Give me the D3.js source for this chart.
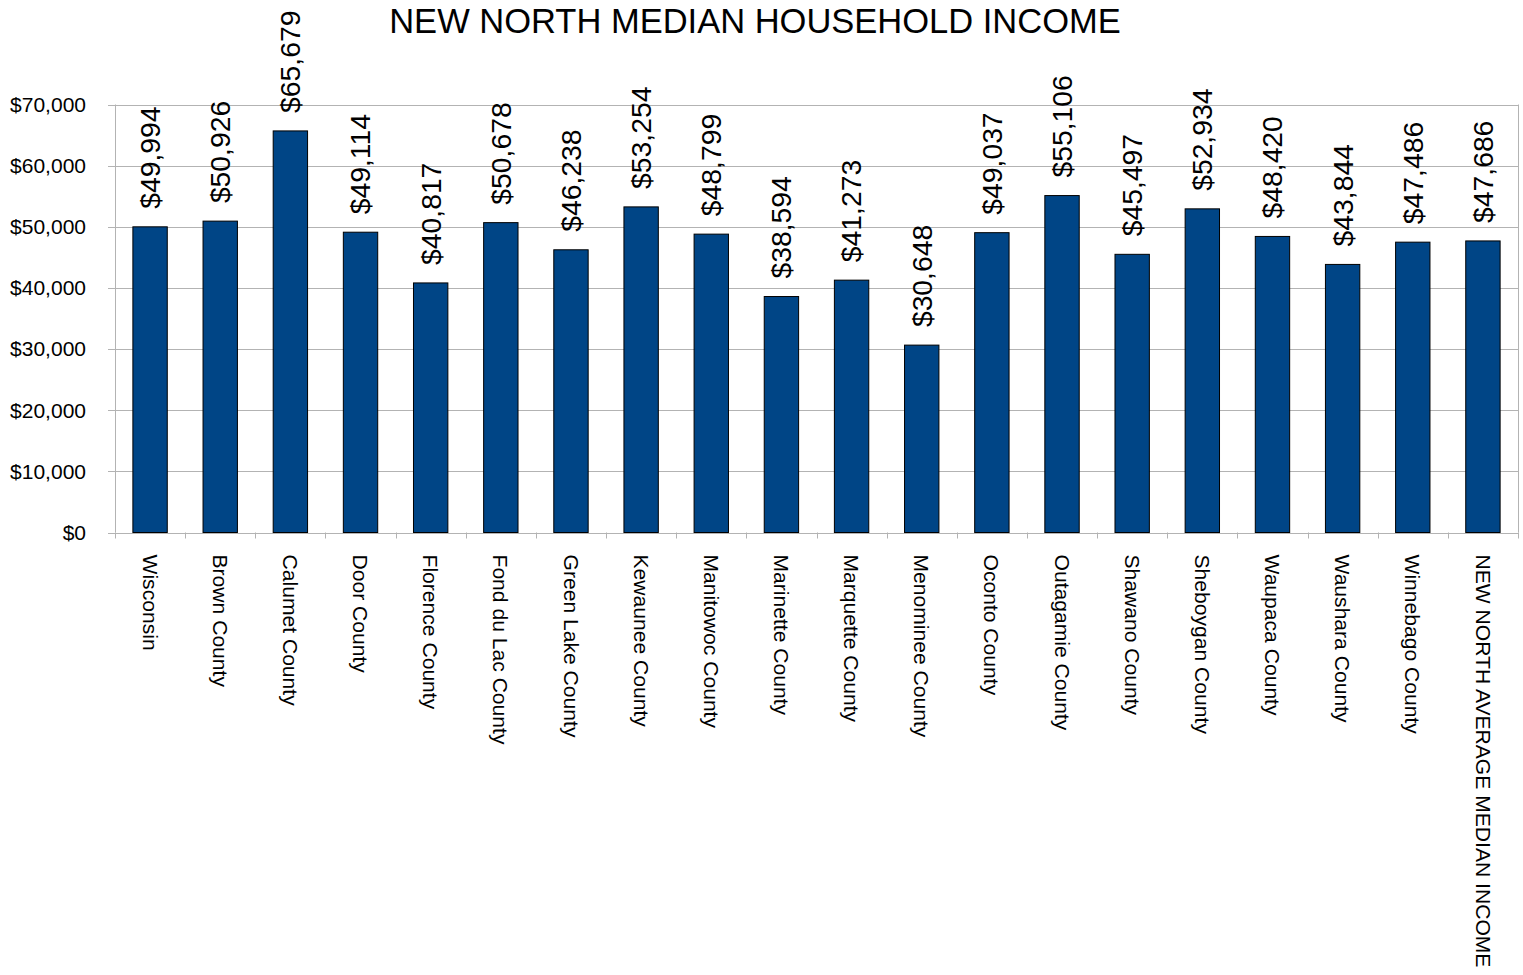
<html>
<script src='https://d3js.org/d3.v7.min.js'></script>
<style>
    body { margin: 0; background: white; }
    text { font-family: "Liberation Sans", Arial, sans-serif; fill: black; }
</style>
<body>
<div id="chart"></div>
<script>
    // categories and median household income values
    var counties = ["Wisconsin", "Brown County", "Calumet County", "Door County", "Florence County",
        "Fond du Lac County", "Green Lake County", "Kewaunee County", "Manitowoc County", "Marinette County",
        "Marquette County", "Menominee County", "Oconto County", "Outagamie County", "Shawano County",
        "Sheboygan County", "Waupaca County", "Waushara County", "Winnebago County", "NEW NORTH AVERAGE MEDIAN INCOME"];
    var income = [49994, 50926, 65679, 49114, 40817, 50678, 46238, 53254, 48799, 38594,
        41273, 30648, 49037, 55106, 45497, 52934, 48420, 43844, 47486, 47686];
    var yTicks = [0, 10000, 20000, 30000, 40000, 50000, 60000, 70000];

    const width = 1523, height = 975;
    const plotLeft = 115, plotRight = 1518, plotTop = 104.5, plotBottom = 532.5;

    const svg = d3.select("#chart").append("svg")
        .attr("width", width)
        .attr("height", height);

    const x = d3.scaleBand()
        .domain(counties)
        .range([plotLeft, plotRight])
        .paddingInner(0.51)
        .paddingOuter(0.255);

    const band = d3.scaleBand().domain(counties).range([plotLeft, plotRight]);

    const y = d3.scaleLinear()
        .domain([0, 70000])
        .range([plotBottom, plotTop]);

    const fmt = d => "$" + d3.format(",")(d);

    // gridlines
    svg.append("g")
        .selectAll("line")
        .data(yTicks)
        .enter()
        .append("line")
        .attr("x1", plotLeft - 7)
        .attr("x2", plotRight)
        .attr("y1", d => Math.round(y(d)) + 0.5)
        .attr("y2", d => Math.round(y(d)) + 0.5)
        .attr("stroke", "#b3b3b3");

    // plot frame sides
    svg.append("line")
        .attr("x1", plotLeft + 0.5).attr("x2", plotLeft + 0.5)
        .attr("y1", plotTop).attr("y2", plotBottom)
        .attr("stroke", "#b3b3b3");
    svg.append("line")
        .attr("x1", plotRight + 0.5).attr("x2", plotRight + 0.5)
        .attr("y1", plotTop).attr("y2", plotBottom)
        .attr("stroke", "#b3b3b3");

    // category tick marks at band boundaries
    svg.append("g")
        .selectAll("line")
        .data(counties.concat(["end"]))
        .enter()
        .append("line")
        .attr("x1", (d, i) => Math.round(i < counties.length ? band(d) : plotRight) + 0.5)
        .attr("x2", (d, i) => Math.round(i < counties.length ? band(d) : plotRight) + 0.5)
        .attr("y1", plotBottom)
        .attr("y2", plotBottom + 6)
        .attr("stroke", "#b3b3b3");

    // y tick labels
    svg.append("g")
        .selectAll("text")
        .data(yTicks)
        .enter()
        .append("text")
        .attr("x", 86)
        .attr("y", d => y(d))
        .attr("dy", "0.35em")
        .style("text-anchor", "end")
        .style("font-size", "21px")
        .text(d => fmt(d));

    // bars
    svg.append("g")
        .selectAll("rect")
        .data(income)
        .enter()
        .append("rect")
        .attr("x", (d, i) => x(counties[i]))
        .attr("y", d => y(d))
        .attr("width", x.bandwidth())
        .attr("height", d => plotBottom - y(d))
        .attr("fill", "#004586")
        .attr("stroke", "black")
        .attr("stroke-width", 1);

    // value labels
    svg.append("g")
        .selectAll("text")
        .data(income)
        .enter()
        .append("text")
        .attr("transform", (d, i) => `translate(${band(counties[i]) + band.bandwidth() / 2},${y(d) - 18}) rotate(-90)`)
        .attr("dy", "0.35em")
        .style("font-size", "28.3px")
        .style("text-anchor", "start")
        .text(d => fmt(d));

    // category labels
    svg.append("g")
        .selectAll("text")
        .data(counties)
        .enter()
        .append("text")
        .attr("transform", d => `translate(${band(d) + band.bandwidth() / 2},${plotBottom + 22}) rotate(90)`)
        .attr("dy", "0.35em")
        .style("font-size", "21.1px")
        .style("text-anchor", "start")
        .text(d => d);

    // title
    svg.append("text")
        .attr("x", 755)
        .attr("y", 33)
        .style("text-anchor", "middle")
        .style("font-size", "34.5px")
        .text("NEW NORTH MEDIAN HOUSEHOLD INCOME");
</script>
</body>
</html>
